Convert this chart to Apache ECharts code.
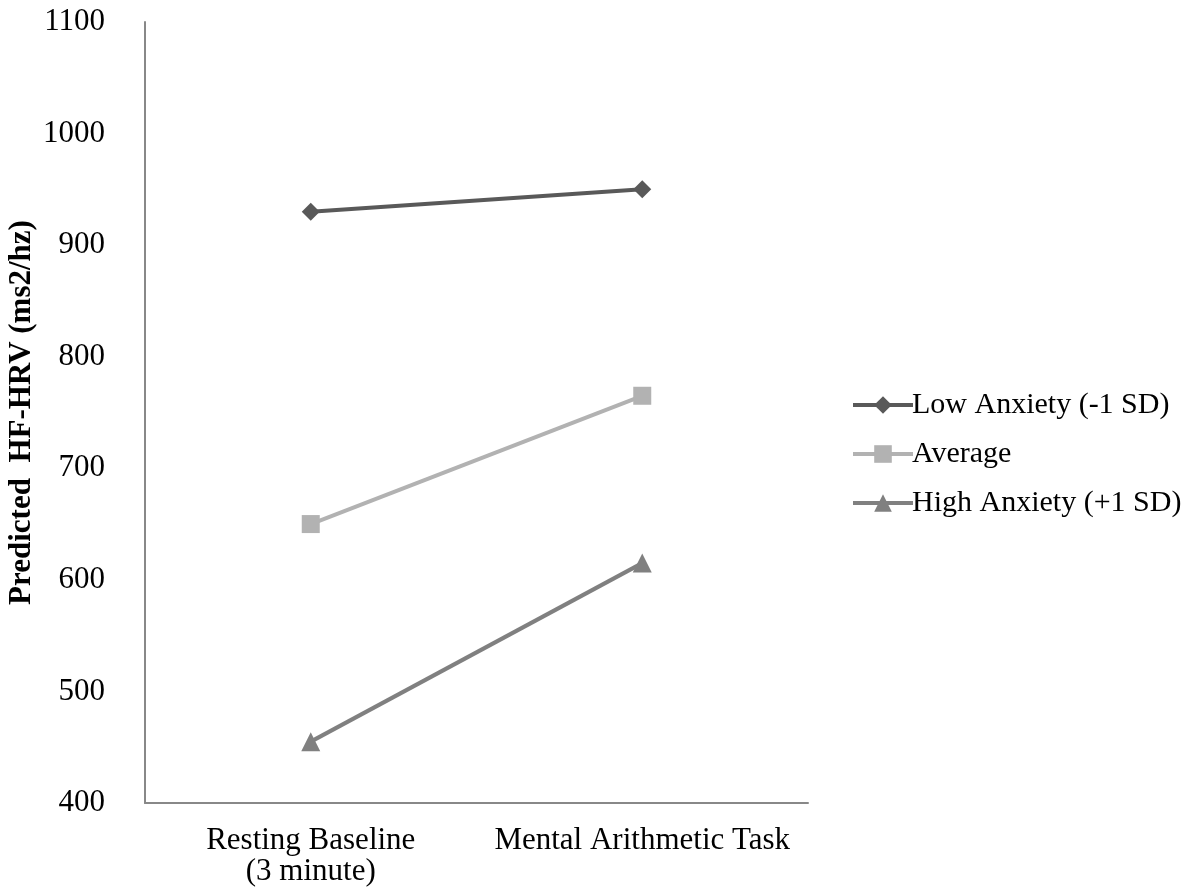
<!DOCTYPE html>
<html><head><meta charset="utf-8">
<script src="https://cdn.jsdelivr.net/npm/echarts@6/dist/echarts.min.js"></script>
<style>html,body{margin:0;padding:0;background:#fff}#c{width:1201px;height:896px}</style>
</head><body><div id="c"></div>
<script>
const categories = ['Resting Baseline\n(3 minute)', 'Mental Arithmetic Task'];
const lowAnxiety = [930, 950];
const average = [650, 765];
const highAnxiety = [455, 615];
const seriesNames = ['Low Anxiety (-1 SD)', 'Average', 'High Anxiety (+1 SD)'];

const font = 'Liberation Serif';
const chart = echarts.init(document.getElementById('c'));
function mk(name, data, color, symbol, size) {
  return {
    name: name, type: 'line', data: data, symbol: symbol, symbolSize: size,
    lineStyle: {color: color, width: 4}, itemStyle: {color: color},
    emphasis: {disabled: true}, animation: false
  };
}
chart.setOption({
  animation: false,
  grid: {left: 145, right: 393, top: 22, bottom: 93, containLabel: false, outerBoundsMode: 'none'},
  legend: {
    orient: 'vertical', left: 846, top: 385, itemGap: 19,
    itemWidth: 60, itemHeight: 22,
    lineStyle: {width: 4},
    textStyle: {fontFamily: font, fontSize: 30, color: '#000', padding: [0,0,0,-6]},
    data: seriesNames
  },
  xAxis: {
    type: 'category', data: categories, boundaryGap: true,
    axisLine: {lineStyle: {color: '#888', width: 2}},
    axisTick: {show: false},
    axisLabel: {interval: 0, fontFamily: font, fontSize: 31, color: '#000', margin: 22, lineHeight: 31}
  },
  yAxis: {
    type: 'value', min: 400, max: 1100, interval: 100,
    name: 'Predicted  HF-HRV (ms2/hz)', nameLocation: 'middle', nameGap: 108, nameMoveOverlap: false,
    nameTextStyle: {fontFamily: font, fontSize: 31, fontWeight: 'bold', color: '#000'},
    axisLine: {show: true, lineStyle: {color: '#888', width: 2}},
    axisTick: {show: false},
    splitLine: {show: false},
    axisLabel: {fontFamily: font, fontSize: 31, color: '#000', margin: 40, formatter: function (v) { return String(v); }}
  },
  series: [
    mk(seriesNames[0], lowAnxiety, '#595959', 'diamond', 18),
    mk(seriesNames[1], average, '#b2b2b2', 'rect', 18),
    mk(seriesNames[2], highAnxiety, '#808080', 'triangle', 19)
  ]
});
</script></body></html>
